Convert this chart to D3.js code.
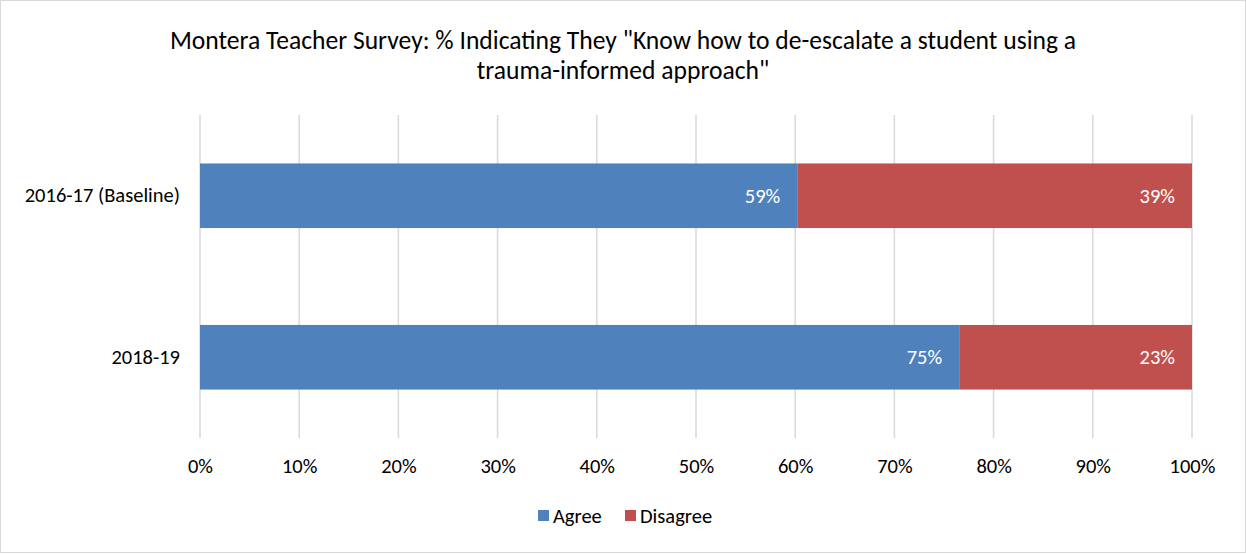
<!DOCTYPE html>
<html><head><meta charset="utf-8">
<script src="https://cdn.jsdelivr.net/npm/d3@7"></script>
<style>body{margin:0;background:#fff;} svg{display:block;font-family:Carlito,Lato,"Open Sans",sans-serif;}</style>
</head><body>
<svg id="chart" width="1246" height="554"></svg>
<script>
const categories = ["2016-17 (Baseline)", "2018-19"];
const seriesNames = ["Agree", "Disagree"];
const agree = [59, 75];
const disagree = [39, 23];
const tickValues = [0, 0.1, 0.2, 0.3, 0.4, 0.5, 0.6, 0.7, 0.8, 0.9, 1.0];
const colors = ["#4F81BD", "#C0504D"];
const titleLines = ['Montera Teacher Survey: % Indicating They "Know how to de-escalate a student using a', 'trauma-informed approach"'];

const FONT = 'Carlito,Lato,"Open Sans",sans-serif';
const FS = 20.5;
const svg = d3.select("#chart");
const W = 1246, H = 554;
svg.append("rect").attr("x",0.5).attr("y",0.5).attr("width",W-1).attr("height",H-2)
  .attr("fill","#fff").attr("stroke","#d9d9d9");

const m = {left:200, right:54, top:115, bottom:116};
const x = d3.scaleLinear().domain([0,1]).range([m.left, W-m.right]);
const y = d3.scaleBand().domain(categories).range([m.top, H-m.bottom]).paddingInner(0.6).paddingOuter(0.3);

// title
svg.append("g").selectAll("text").data(titleLines).join("text")
  .attr("x", 623).attr("y",(d,i)=>40+i*30).attr("dy","0.35em").attr("text-anchor","middle")
  .attr("font-size",25.6).attr("fill","#000").text(d=>d);

// gridlines
svg.append("g").selectAll("line").data(tickValues).join("line")
  .attr("x1",d=>x(d)).attr("x2",d=>x(d)).attr("y1",m.top).attr("y2",H-m.bottom)
  .attr("stroke","#d9d9d9").attr("stroke-width",1.5);

// x axis labels
const xAxis = d3.axisBottom(x).tickValues(tickValues).tickFormat(d3.format(".0%")).tickSize(0).tickPadding(0);
const gx = svg.append("g").attr("transform",`translate(0,466)`).call(xAxis)
  .attr("font-family",FONT).attr("font-size",FS);
gx.select(".domain").remove();
gx.selectAll("text").attr("fill","#000").attr("y",0).attr("dy","0.35em");

// y axis labels
const yAxis = d3.axisLeft(y).tickSize(0).tickPadding(20);
const gy = svg.append("g").attr("transform",`translate(${m.left},0)`).call(yAxis)
  .attr("font-family",FONT).attr("font-size",FS);
gy.select(".domain").remove();
gy.selectAll("text").attr("fill","#000");

// stacked normalized
const rows = categories.map((c,i)=>({cat:c, Agree:agree[i], Disagree:disagree[i]}));
const stack = d3.stack().keys(seriesNames).offset(d3.stackOffsetExpand);
const layers = stack(rows);

const g = svg.append("g");
layers.forEach((layer,li)=>{
  g.append("g").selectAll("rect").data(layer).join("rect")
    .attr("x",d=>x(d[0])).attr("width",d=>x(d[1])-x(d[0]))
    .attr("y",d=>y(d.data.cat)).attr("height",y.bandwidth())
    .attr("fill",colors[li]);
  g.append("g").selectAll("text").data(layer).join("text")
    .attr("x",d=>x(d[1])-17).attr("y",d=>y(d.data.cat)+y.bandwidth()/2)
    .attr("dy","0.35em").attr("text-anchor","end").attr("font-size",FS).attr("fill","#fff")
    .text(d=>d.data[layer.key]+"%");
});

// legend
const legX = [538, 625];
const leg = svg.append("g");
seriesNames.forEach((s,i)=>{
  leg.append("rect").attr("x",legX[i]).attr("y",510).attr("width",11).attr("height",11).attr("fill",colors[i]);
  leg.append("text").attr("x",legX[i]+15).attr("y",516).attr("dy","0.35em").attr("font-size",FS).attr("fill","#000").text(s);
});
</script>
</body></html>
